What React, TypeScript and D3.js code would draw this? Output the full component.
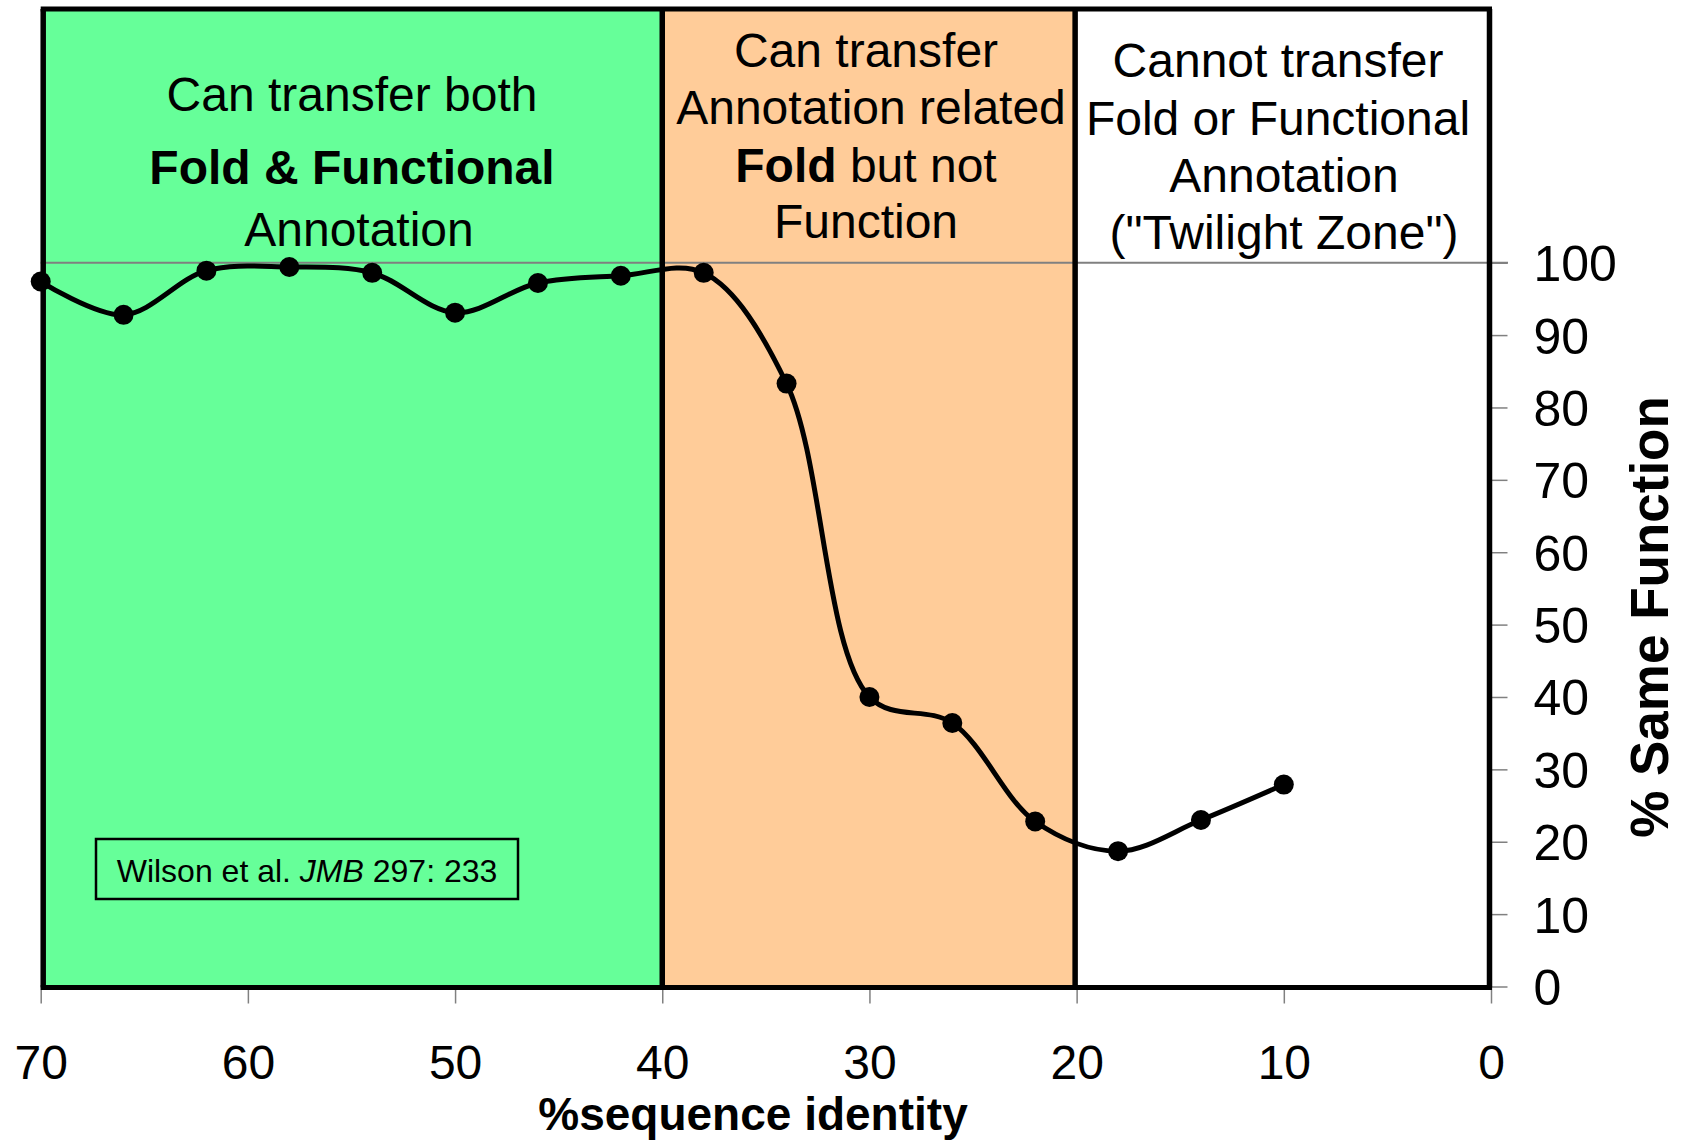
import React, { useEffect, useRef } from 'react';
import * as d3 from 'd3';

// % sequence identity vs % same function (Wilson et al.)
const identity = [70, 66, 62, 58, 54, 50, 46, 42, 38, 34, 30, 26, 22, 18, 14, 10];
const sameFunction = [97.4, 92.8, 98.9, 99.4, 98.6, 93.1, 97.2, 98.2, 98.6, 83.3, 40.0, 36.4, 22.8, 18.7, 23.0, 27.9];

const xTicks = [70, 60, 50, 40, 30, 20, 10, 0];
const yTicks = [0, 10, 20, 30, 40, 50, 60, 70, 80, 90, 100];

const zoneBounds = [70, 40, 20, 0];
const zoneFills = ['#66FF99', '#FFCC99', '#FFFFFF'];

interface Segment {
  text: string;
  bold?: boolean;
  italic?: boolean;
}

const zoneLabels: Segment[][][] = [
  [[{ text: 'Can transfer both' }], [{ text: 'Fold & Functional', bold: true }], [{ text: 'Annotation' }]],
  [
    [{ text: 'Can transfer' }],
    [{ text: 'Annotation related' }],
    [{ text: 'Fold', bold: true }, { text: ' but not' }],
    [{ text: 'Function' }],
  ],
  [
    [{ text: 'Cannot transfer' }],
    [{ text: 'Fold or Functional' }],
    [{ text: 'Annotation' }],
    [{ text: '("Twilight Zone")' }],
  ],
];

const citation: Segment[] = [{ text: 'Wilson et al. ' }, { text: 'JMB', italic: true }, { text: ' 297: 233' }];

const FONT = '"Liberation Sans", Arial, sans-serif';

const App: React.FC = () => {
  const svgRef = useRef<SVGSVGElement>(null);

  useEffect(() => {
    if (!svgRef.current) return;
    const svg = d3.select(svgRef.current);
    svg.selectAll('*').remove();

    const width = 1701;
    const height = 1140;
    const plotTop = 9;

    const x = d3.scaleLinear().domain([70, 0]).range([40.7, 1491]);
    const y = d3.scaleLinear().domain([0, 100]).range([986.5, 262.7]);

    svg.append('rect').attr('width', width).attr('height', height).attr('fill', '#fff');

    // border x positions of the three zones
    const edges = zoneBounds.map((b, i) =>
      i === 0 ? x(b) + 2.5 : i === zoneBounds.length - 1 ? x(b) - 1.5 : b === 20 ? x(b) - 1.5 : x(b)
    );

    svg
      .selectAll('rect.zone')
      .data(zoneFills)
      .enter()
      .append('rect')
      .attr('class', 'zone')
      .attr('x', (_, i) => edges[i])
      .attr('y', plotTop)
      .attr('width', (_, i) => edges[i + 1] - edges[i])
      .attr('height', y(0) - plotTop)
      .attr('fill', (d) => d);

    // zone captions
    const labelBaselines = [
      [111, 184, 245.5],
      [67, 123.5, 181.5, 238],
      [77, 134.5, 192, 249],
    ];
    const labelCenters = [
      [352, 352, 359],
      [866, 871, 866, 866],
      [1278, 1278, 1284, 1284],
    ];
    zoneLabels.forEach((lines, zi) => {
      lines.forEach((segs, li) => {
        const t = svg
          .append('text')
          .attr('x', labelCenters[zi][li])
          .attr('y', labelBaselines[zi][li])
          .attr('text-anchor', 'middle')
          .attr('font-family', FONT)
          .attr('font-size', 48)
          .style('white-space', 'pre')
          .attr('fill', '#000');
        segs.forEach((s) => {
          t.append('tspan')
            .attr('font-weight', s.bold ? 'bold' : 'normal')
            .text(s.text);
        });
      });
    });

    // 100% reference line
    svg
      .append('line')
      .attr('x1', x(70))
      .attr('x2', x(0) + 17)
      .attr('y1', y(100))
      .attr('y2', y(100))
      .attr('stroke', '#808080')
      .attr('stroke-width', 2);

    // x axis ticks + labels
    const xAxis = svg
      .append('g')
      .attr('transform', `translate(0,${y(0) + 1})`)
      .call(d3.axisBottom(x).tickValues(xTicks).tickSize(16).tickPadding(41).tickFormat(d3.format('d')));
    xAxis.select('.domain').remove();
    xAxis.selectAll('line').attr('stroke', '#808080').attr('stroke-width', 1.5);
    xAxis.selectAll('text').attr('font-family', FONT).attr('font-size', 48).attr('fill', '#000');

    // y axis on the right
    const yAxis = svg
      .append('g')
      .attr('transform', `translate(${edges[3]},0)`)
      .call(d3.axisRight(y).tickValues(yTicks).tickSize(18).tickPadding(26).tickFormat(d3.format('d')));
    yAxis.select('.domain').remove();
    yAxis.selectAll('line').attr('stroke', '#808080').attr('stroke-width', 1.5);
    yAxis
      .selectAll('text')
      .attr('font-family', FONT)
      .attr('font-size', 50)
      .attr('dy', '0.36em')
      .attr('fill', '#000');

    // frame: top, zone borders, bottom axis line
    svg
      .append('line')
      .attr('x1', x(70))
      .attr('x2', x(0) + 1)
      .attr('y1', plotTop)
      .attr('y2', plotTop)
      .attr('stroke', '#000')
      .attr('stroke-width', 5);
    svg
      .selectAll('line.edge')
      .data(edges)
      .enter()
      .append('line')
      .attr('class', 'edge')
      .attr('x1', (d) => d)
      .attr('x2', (d) => d)
      .attr('y1', plotTop)
      .attr('y2', y(0) + 1)
      .attr('stroke', '#000')
      .attr('stroke-width', 5.5);
    svg
      .append('line')
      .attr('x1', x(70))
      .attr('x2', x(0) + 1)
      .attr('y1', y(0) + 1)
      .attr('y2', y(0) + 1)
      .attr('stroke', '#000')
      .attr('stroke-width', 5);

    // smoothed series
    const pts = identity.map((v, i) => [v, sameFunction[i]] as [number, number]);
    const line = d3
      .line<[number, number]>()
      .x((d) => x(d[0]))
      .y((d) => y(d[1]))
      .curve(d3.curveCatmullRom.alpha(0.5));
    svg
      .append('path')
      .datum(pts)
      .attr('d', line)
      .attr('fill', 'none')
      .attr('stroke', '#000')
      .attr('stroke-width', 5)
      .attr('stroke-linejoin', 'round');
    svg
      .selectAll('circle.pt')
      .data(pts)
      .enter()
      .append('circle')
      .attr('class', 'pt')
      .attr('cx', (d) => x(d[0]))
      .attr('cy', (d) => y(d[1]))
      .attr('r', 10)
      .attr('fill', '#000');

    // citation box
    svg
      .append('rect')
      .attr('x', 96)
      .attr('y', 839)
      .attr('width', 422)
      .attr('height', 60)
      .attr('fill', 'none')
      .attr('stroke', '#000')
      .attr('stroke-width', 2.5);
    const cite = svg
      .append('text')
      .attr('x', 307)
      .attr('y', 882)
      .attr('text-anchor', 'middle')
      .attr('font-family', FONT)
      .attr('font-size', 32)
      .style('white-space', 'pre');
    citation.forEach((s) => {
      cite
        .append('tspan')
        .attr('font-style', s.italic ? 'italic' : 'normal')
        .text(s.text);
    });

    // axis titles
    svg
      .append('text')
      .attr('x', 753)
      .attr('y', 1130)
      .attr('text-anchor', 'middle')
      .attr('font-family', FONT)
      .attr('font-size', 46)
      .attr('font-weight', 'bold')
      .text('%sequence identity');
    svg
      .append('text')
      .attr('transform', 'translate(1668,617) rotate(-90)')
      .attr('text-anchor', 'middle')
      .attr('font-family', FONT)
      .attr('font-size', 53)
      .attr('font-weight', 'bold')
      .text('% Same Function');
  }, []);

  return (
    <div>
      <style>{'body{margin:0}'}</style>
      <svg ref={svgRef} width={1701} height={1140} style={{ display: 'block' }} />
    </div>
  );
};

export default App;
